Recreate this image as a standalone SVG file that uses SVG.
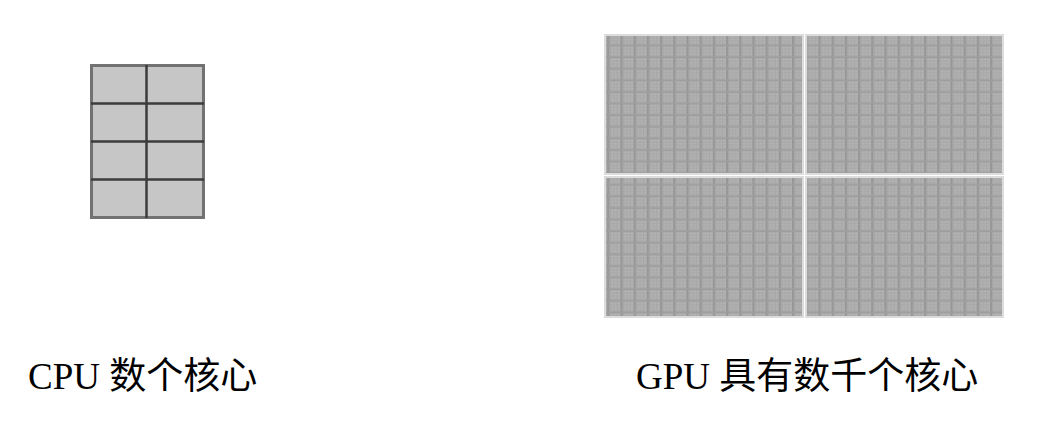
<svg xmlns="http://www.w3.org/2000/svg" width="1061" height="421" viewBox="0 0 1061 421">
<defs>
<pattern id="fine" patternUnits="userSpaceOnUse" width="13.2" height="11.6">
<rect width="13.2" height="11.6" fill="#acacac"/>
<path d="M0 1.5H13.2M0 4.5H13.2M0 7.5H13.2" stroke="#b6b6b6" stroke-width="1"/>
<path d="M3.3 0V11.6M6.6 0V11.6M9.9 0V11.6" stroke="#a6a6a6" stroke-width="0.8"/>
<rect x="0" y="0" width="2.2" height="11.6" fill="#979797"/>
<rect x="0" y="10" width="13.2" height="1.6" fill="#9e9e9e"/>
</pattern>
<style>
.panel{fill:url(#fine);stroke:#dcdcdc;stroke-width:2}
.cell{fill:#c6c6c6}
.lbl{font-family:"Liberation Serif","Noto Sans CJK SC",serif;font-size:37px;fill:#000}
</style>
</defs>
<rect width="1061" height="421" fill="#fff"/>
<g id="cpu">
<rect x="91.5" y="65.5" width="112" height="152" class="cell" stroke="#727272" stroke-width="3"/>
<path d="M146.5 65V218M91 103.5H204M91 141.5H204M91 179.5H204" stroke="#3c3c3c" stroke-width="2.5" fill="none"/>
</g>
<g id="gpu">
<rect x="605" y="35" width="198" height="139" class="panel"/>
<rect x="806" y="35" width="197" height="139" class="panel"/>
<rect x="605" y="177" width="198" height="140" class="panel"/>
<rect x="806" y="177" width="197" height="140" class="panel"/>
</g>
<g id="labels">
<text x="28" y="389" class="lbl">CPU 数个核心</text>
<text x="636" y="389" class="lbl">GPU 具有数千个核心</text>
</g>
</svg>
